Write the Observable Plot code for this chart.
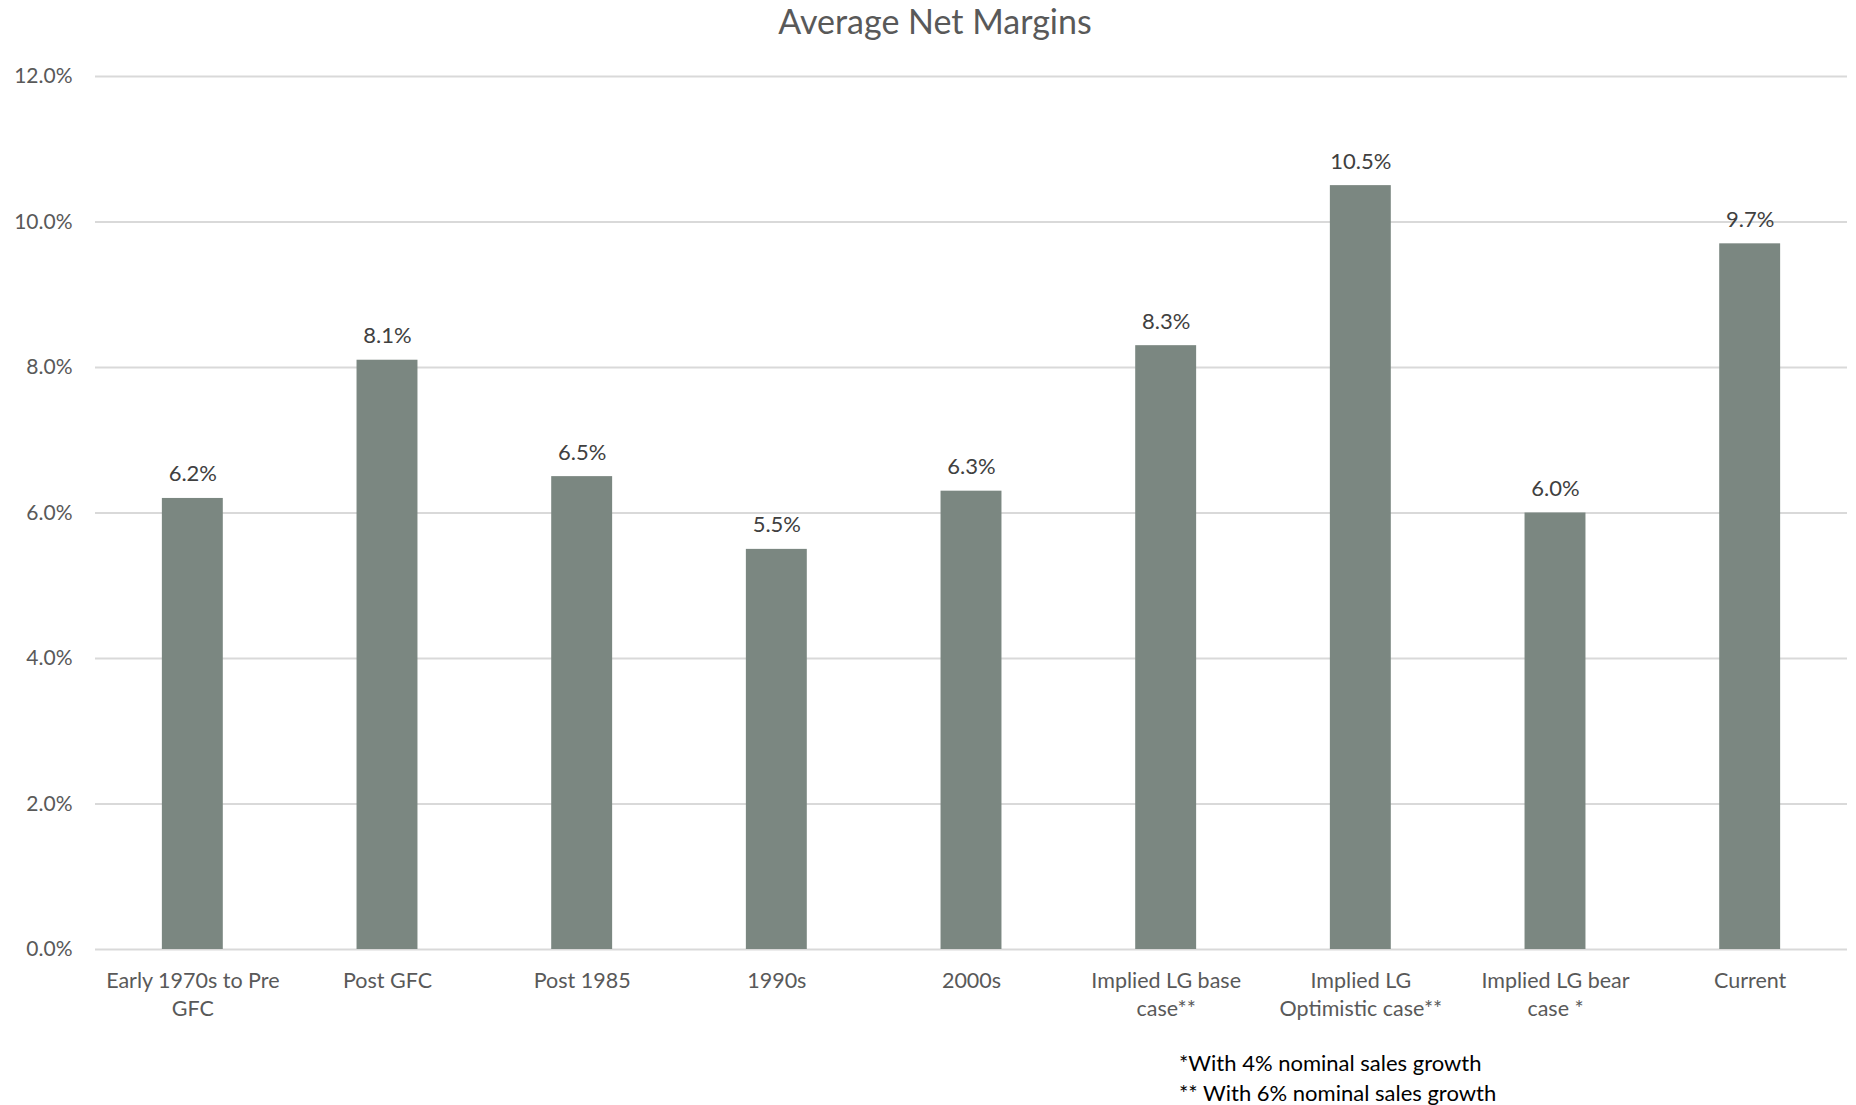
<!DOCTYPE html>
<html>
<head>
<meta charset="utf-8">
<script src="https://cdn.jsdelivr.net/npm/d3@7"></script>
<script src="https://cdn.jsdelivr.net/npm/@observablehq/plot@0.6"></script>
<style>
  html, body { margin: 0; padding: 0; background: #fff; }
  body { width: 1856px; height: 1105px; position: relative; font-family: Lato, "Open Sans", sans-serif; overflow: hidden; }
  #title { height: 45px; line-height: 42px; text-align: center; font-size: 34px; color: #595959; padding-left: 14px; }
  #notes { position: absolute; left: 1179px; top: 1048px; font-size: 22px; line-height: 30px; color: #000; }
</style>
</head>
<body>
<div id="title">Average Net Margins</div>
<div id="chart"></div>
<div id="notes">
  <div>*With 4% nominal sales growth</div>
  <div>** With 6% nominal sales growth</div>
</div>
<script>
// Periods / scenarios shown on the x axis
const categories = [
  "Early 1970s to Pre GFC",
  "Post GFC",
  "Post 1985",
  "1990s",
  "2000s",
  "Implied LG base case**",
  "Implied LG Optimistic case**",
  "Implied LG bear case *",
  "Current"
];

// Axis labels, wrapped onto two lines where needed
const tickLabels = [
  "Early 1970s to Pre\nGFC",
  "Post GFC",
  "Post 1985",
  "1990s",
  "2000s",
  "Implied LG base\ncase**",
  "Implied LG\nOptimistic case**",
  "Implied LG bear\ncase *",
  "Current"
];

// Average net margin, percent
const margins = [6.2, 8.1, 6.5, 5.5, 6.3, 8.3, 10.5, 6.0, 9.7];

// Y axis ticks, percent
const yTicks = [0, 2, 4, 6, 8, 10, 12];

const rows = categories.map((c, i) => ({category: c, label: tickLabels[i], value: margins[i]}));
const labelOf = new Map(rows.map(d => [d.category, d.label]));
const pct = v => v.toFixed(1) + "%";

const chart = Plot.plot({
  width: 1856,
  height: 995,
  marginTop: 31,
  marginLeft: 95,
  marginRight: 9,
  marginBottom: 91,
  style: {fontFamily: "Lato, 'Open Sans', sans-serif", background: "#fff"},
  x: {domain: categories, paddingInner: 0.687, paddingOuter: 0.3435, round: false},
  y: {domain: [0, 12]},
  marks: [
    Plot.ruleY(yTicks, {stroke: "#d9d9d9", strokeWidth: 2}),
    Plot.barY(rows, {x: "category", y: "value", fill: "#7b8781"}),
    Plot.text(rows, {
      x: "category", y: "value", text: d => pct(d.value),
      lineAnchor: "bottom", dy: -17, fontSize: 22, fill: "#404040"
    }),
    Plot.axisY({
      ticks: yTicks, tickFormat: pct, tickSize: 0, tickPadding: 23,
      fontSize: 21, fill: "#595959", label: null
    }),
    Plot.axisX({
      tickSize: 0, tickPadding: 19, tickFormat: c => labelOf.get(c),
      fontSize: 21.5, lineHeight: 1.3, fill: "#595959", label: null
    })
  ]
});

document.getElementById("chart").append(chart);
</script>
</body>
</html>
